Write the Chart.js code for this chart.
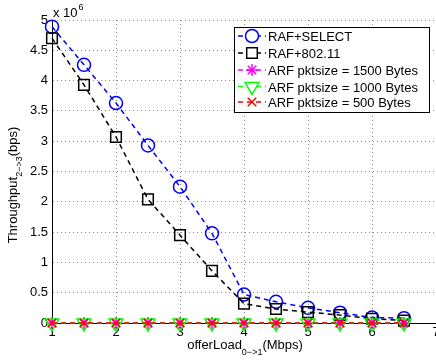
<!DOCTYPE html>
<html>
<head>
<meta charset="utf-8">
<script src="https://cdn.jsdelivr.net/npm/chart.js@4/dist/chart.umd.min.js"></script>
<style>
  html, body { margin: 0; padding: 0; background: #fff; overflow: hidden; }
  #wrap { position: relative; width: 460px; height: 364px; }
</style>
</head>
<body>
<div id="wrap"><canvas id="chartThroughput"></canvas></div>
<script>
// offered load (Mbps)
const offerLoad = [1, 1.5, 2, 2.5, 3, 3.5, 4, 4.5, 5, 5.5, 6, 6.5];
// throughput, in units of 10^6 bps
const rafSelect = [4.89, 4.26, 3.63, 2.93, 2.25, 1.48, 0.47, 0.35, 0.25, 0.17, 0.09, 0.08];
const raf80211 = [4.70, 3.93, 3.07, 2.04, 1.45, 0.86, 0.32, 0.23, 0.18, 0.13, 0.07, 0.04];
const arf1500 = [0, 0, 0, 0, 0, 0, 0, 0, 0, 0, 0, 0];
const arf1000 = [0, 0, 0, 0, 0, 0, 0, 0, 0, 0, 0, 0];
const arf500 = [0, 0, 0, 0, 0, 0, 0, 0, 0, 0, 0, 0];
const seriesNames = ["RAF+SELECT", "RAF+802.11", "ARF pktsize = 1500 Bytes", "ARF pktsize = 1000 Bytes", "ARF pktsize = 500 Bytes"];

const FONT = "'Liberation Sans', Arial, Helvetica, sans-serif";

function pts(ys) {
  return ys.map((y, i) => ({ x: offerLoad[i], y: y }));
}

function serie(i, ys, color, style, radius, rotation, order) {
  return {
    label: seriesNames[i],
    data: pts(ys),
    borderColor: color,
    backgroundColor: "rgba(0,0,0,0)",
    borderWidth: 1.5,
    borderDash: [5, 4],
    pointStyle: style,
    pointRadius: radius,
    pointRotation: rotation,
    pointBorderColor: color,
    pointBackgroundColor: "rgba(0,0,0,0)",
    pointBorderWidth: 1.5,
    clip: false,
    order: order,
  };
}

// legend box + axis titles with subscripts, drawn like matlab
const extras = {
  id: "extras",
  afterDraw(chart) {
    const ctx = chart.ctx;
    ctx.save();
    ctx.fillStyle = "#000";
    ctx.textBaseline = "alphabetic";

    // x 10^6
    ctx.font = "13px " + FONT;
    ctx.textAlign = "left";
    ctx.fillText("x 10", 53, 17);
    const w10 = ctx.measureText("x 10").width;
    ctx.font = "9px " + FONT;
    ctx.fillText("6", 53 + w10 + 1, 10);

    // x title
    const xp = [["offerLoad", 13, 0], ["0\u2212>1", 9, 6], ["(Mbps)", 13, 0]];
    let tw = 0;
    xp.forEach((p) => { ctx.font = p[1] + "px " + FONT; tw += ctx.measureText(p[0]).width; });
    let x = 245 - tw / 2;
    xp.forEach((p) => {
      ctx.font = p[1] + "px " + FONT;
      ctx.fillText(p[0], x, 349 + p[2]);
      x += ctx.measureText(p[0]).width;
    });

    // y title
    const yp = [["Throughput", 13, 0], ["2\u2212>3", 9, 5], ["(bps)", 13, 0]];
    ctx.save();
    ctx.translate(17, 185);
    ctx.rotate(-Math.PI / 2);
    tw = 0;
    yp.forEach((p) => { ctx.font = p[1] + "px " + FONT; tw += ctx.measureText(p[0]).width; });
    x = -tw / 2;
    yp.forEach((p) => {
      ctx.font = p[1] + "px " + FONT;
      ctx.fillText(p[0], x, p[2]);
      x += ctx.measureText(p[0]).width;
    });
    ctx.restore();

    // legend
    const bx = 234, by = 27, bw = 195, bh = 85;
    ctx.fillStyle = "#fff";
    ctx.fillRect(bx, by, bw, bh);
    ctx.strokeStyle = "#000";
    ctx.lineWidth = 1;
    ctx.strokeRect(bx + 0.5, by + 0.5, bw, bh);
    const rowY = [36, 53, 70, 86.5, 102];
    chart.data.datasets.forEach((ds, i) => {
      const y = rowY[i];
      ctx.save();
      ctx.strokeStyle = ds.borderColor;
      ctx.lineWidth = 1.5;
      ctx.setLineDash([5, 4]);
      ctx.beginPath();
      ctx.moveTo(238, y);
      ctx.lineTo(266, y);
      ctx.stroke();
      ctx.setLineDash([]);
      ctx.fillStyle = "#fff";
      ctx.strokeStyle = ds.borderColor;
      if (Chart.helpers && Chart.helpers.drawPoint) {
        Chart.helpers.drawPoint(ctx, {
          pointStyle: ds.pointStyle,
          radius: ds.pointRadius,
          rotation: ds.pointRotation,
          borderWidth: 1.5,
        }, 252, y);
      }
      ctx.restore();
      ctx.fillStyle = "#000";
      ctx.font = "13px " + FONT;
      ctx.fillText(ds.label, 268, y + 5);
    });
    ctx.restore();
  },
};

const ctx = document.getElementById("chartThroughput").getContext("2d");
new Chart(ctx, {
  type: "line",
  data: {
    datasets: [
      serie(0, rafSelect, "#0000ff", "circle", 6.5, 0, 5),
      serie(1, raf80211, "#000000", "rect", 7.5, 0, 4),
      serie(2, arf1500, "#ff00ff", "star", 6, 0, 3),
      serie(3, arf1000, "#00ff00", "triangle", 8, 180, 2),
      serie(4, arf500, "#ff0000", "crossRot", 6, 0, 1),
    ],
  },
  options: {
    responsive: true,
    maintainAspectRatio: false,
    animation: false,
    events: [],
    layout: { padding: { left: 0, top: 20, right: 24, bottom: 0 } },
    plugins: {
      legend: { display: false },
      tooltip: { enabled: false },
    },
    scales: {
      x: {
        type: "linear",
        min: 1,
        max: 7,
        afterFit(scale) { scale.height = 41; },
        ticks: {
          stepSize: 1,
          color: "#000",
          padding: 2,
          maxRotation: 0,
          font: { family: FONT, size: 13 },
          callback: (v) => String(v),
        },
        grid: { color: "#8c8c8c", lineWidth: 1, drawTicks: false },
        border: { color: "#000", width: 1, dash: [1, 3] },
      },
      y: {
        min: 0,
        max: 5,
        afterFit(scale) { scale.width = 52; },
        ticks: {
          stepSize: 0.5,
          color: "#000",
          padding: 4,
          font: { family: FONT, size: 13 },
          callback: (v) => String(v),
        },
        grid: { color: "#8c8c8c", lineWidth: 1, drawTicks: false },
        border: { color: "#000", width: 1, dash: [1, 3] },
      },
    },
  },
  plugins: [extras],
});
</script>
</body>
</html>
